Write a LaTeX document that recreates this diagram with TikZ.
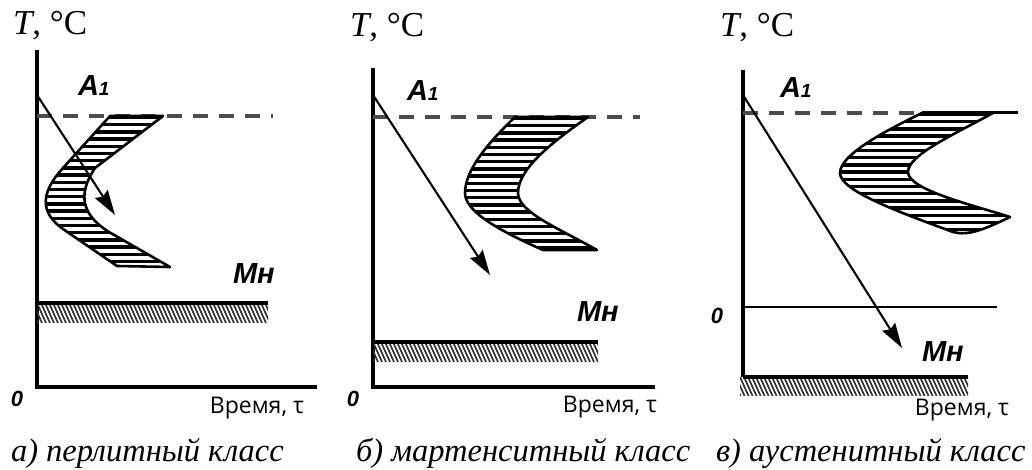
\documentclass[tikz,border=0pt]{standalone}
\usepackage{fontspec}
\setmainfont{Liberation Serif}
\newfontfamily\markfont{Liberation Sans}
\newfontfamily\timefont{Open Sans}
\usetikzlibrary{arrows.meta}

% критическая точка A1 с маленькой единицей
\newcommand{\Aone}{A{\fontsize{19}{19}\selectfont 1}}

\begin{document}
\begin{tikzpicture}[x=1pt,y=-1pt,line width=2pt,>=Stealth,
  axisline/.style={line width=3.4pt},
  critline/.style={line width=3.2pt,black!70,dash pattern=on 15pt off 11pt},
  cooling/.style={-{Stealth[length=25pt,width=15pt,inset=3pt]},line width=2.1pt},
  cshape/.style={line width=2.6pt,line join=round,
    path picture={\foreach \k in {0,...,22}{
      \draw[line width=3.4pt] ([yshift=-\k*7.2pt-1.5pt]path picture bounding box.north west)
        -- ([yshift=-\k*7.2pt-1.5pt]path picture bounding box.north east);}}},
  bandhatch/.style={path picture={\foreach \k in {-8,...,62}{
      \draw[line width=1.7pt,black!80] ([xshift=\k*4pt]path picture bounding box.north west) -- ++(9pt,-20pt);}}},
  tlabel/.style={anchor=base west,inner sep=0pt,font=\fontsize{35}{35}\selectfont},
  caption/.style={anchor=base west,inner sep=0pt,font=\fontsize{32.5}{32.5}\selectfont\itshape},
  timelabel/.style={anchor=base east,inner sep=0pt,font=\timefont\fontsize{23}{23}\selectfont},
  pointlabel/.style={anchor=base west,inner sep=0pt,font=\markfont\bfseries\itshape\fontsize{29}{29}\selectfont},
  zero/.style={anchor=base,inner sep=0pt,font=\markfont\bfseries\itshape\fontsize{22}{22}\selectfont}]
\useasboundingbox (0,0) rectangle (1032,470);
% ---------- а) перлитный класс ----------
\begin{scope}[shift={(37,0)}]
% оси
\coordinate (Oa) at (0,387);
\draw[axisline] (0,50) -- (Oa) -- (280,387);
\node[tlabel] (Ta) at (-25,35) {\textit{T}, °C};
\node[zero] (Za) at (-20,406) {0};
\node[timelabel] (ta) at (268,413) {Время, τ};
% линия A1 и С-кривая
\draw[critline] (0,116) -- (236,116);
\node[pointlabel] (A1a) at (40,96) {\Aone};
\draw[cshape] (73,116) -- (26,168) .. controls (4,192) and (2,212) .. (26,229) -- (80,266)
  -- (133,267) -- (72,232) .. controls (45,215) and (40,195) .. (58,168) -- (126,116) -- cycle;
% Мн и заштрихованная полоса
\node[pointlabel] (Mna) at (195,283) {Mн};
\path[bandhatch] (0,303) rectangle (231,322);
\draw[axisline] (0,303) -- (231,303);
% кривая охлаждения
\coordinate (sa) at (0,95);
\coordinate (ea) at (78,215);
\draw[cooling] (sa) -- (ea);
\node[caption] (capa) at (-27,461) {а) перлитный класс};
\end{scope}
% ---------- б) мартенситный класс ----------
\begin{scope}[shift={(373,0)}]
\coordinate (Ob) at (0,387);
\draw[axisline] (0,68) -- (Ob) -- (282,387);
\node[tlabel] (Tb) at (-24,37) {\textit{T}, °C};
\node[zero] (Zb) at (-20,406) {0};
\node[timelabel] (tb) at (285,412) {Время, τ};
\draw[critline] (0,117) -- (267,117);
\node[pointlabel] (A1b) at (33,101) {\Aone};
\draw[cshape] (142,117) .. controls (115,143) and (92,170) .. (92,193) .. controls (92,210) and (120,228) .. (170,250)
  -- (224,250) .. controls (185,228) and (145,212) .. (145,193) .. controls (145,170) and (175,145) .. (215,117) -- cycle;
\node[pointlabel] (Mnb) at (203,321) {Mн};
\path[bandhatch] (0,342) rectangle (225,362);
\draw[axisline] (0,342) -- (225,342);
\coordinate (sb) at (0,95);
\coordinate (eb) at (117,275);
\draw[cooling] (sb) -- (eb);
\node[caption] (capb) at (-18,461) {б) мартенситный класс};
\end{scope}
% ---------- в) аустенитный класс ----------
\begin{scope}[shift={(743,0)}]
\coordinate (Oc) at (0,377);
\draw[axisline] (0,70) -- (Oc);
\draw[axisline,line width=2.6pt] (0,307) -- (254,307);
\node[tlabel] (Tc) at (-24,37) {\textit{T}, °C};
\node[zero] (Zc) at (-26,323) {0};
\node[timelabel] (tc) at (267,415) {Время, τ};
\draw[critline] (0,113) -- (179,113);
\draw[line width=3pt] (179,113) -- (275,113);
\node[pointlabel] (A1c) at (36,98) {\Aone};
\draw[cshape] (179,113) .. controls (140,132) and (97,155) .. (97,173) .. controls (97,190) and (150,210) .. (210,232)
  .. controls (225,236) and (240,230) .. (267,217) .. controls (230,205) and (165,190) .. (165,172)
  .. controls (165,155) and (210,135) .. (250,113) -- cycle;
\node[pointlabel] (Mnc) at (178,361) {Mн};
\path[bandhatch] (-3,377) rectangle (225,395);
\draw[axisline] (Oc) -- (225,377);
\coordinate (sc) at (0,95);
\coordinate (ec) at (159,348);
\draw[cooling] (sc) -- (ec);
\node[caption] (capc) at (-28,461) {в) аустенитный класс};
\end{scope}
\end{tikzpicture}
\end{document}
